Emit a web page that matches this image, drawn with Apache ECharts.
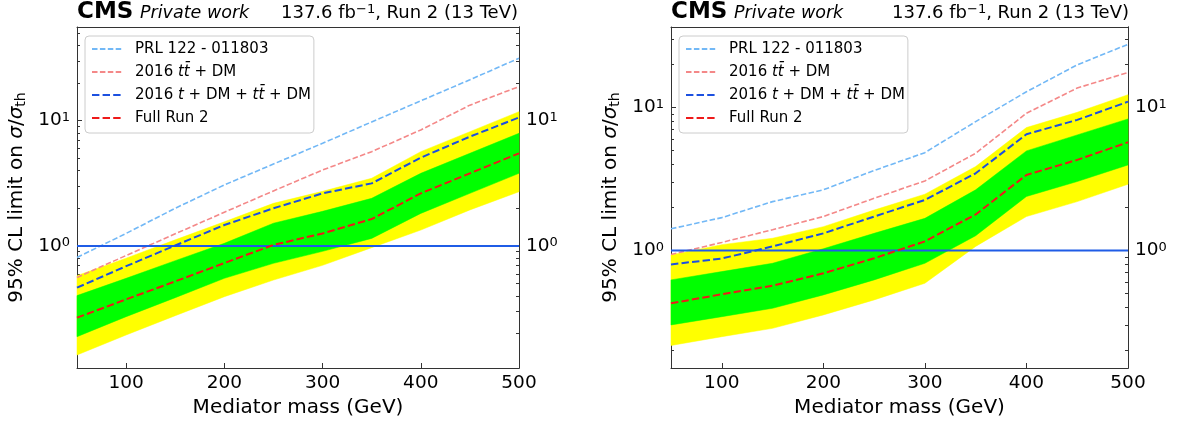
<!DOCTYPE html>
<html>
<head>
<meta charset="utf-8">
<script src="https://cdn.jsdelivr.net/npm/echarts@6/dist/echarts.min.js"></script>
<style>
  html, body { margin: 0; padding: 0; background: #ffffff; }
  #chart { width: 1180px; height: 423px; }
</style>
</head>
<body>
<div id="chart"></div>
<script>
// Mediator mass points (GeV)
const masses = [50, 100, 150, 200, 250, 300, 350, 400, 450, 500];
const xTicks = [100, 200, 300, 400, 500];

// ---- Left panel: 95% CL upper limits on sigma/sigma_th ----
const prlA      = [0.81, 1.26, 2.00, 3.07, 4.51, 6.60, 9.77, 14.4, 21.2, 31.5];
const ttbarA    = [0.56, 0.84, 1.25, 1.86, 2.75, 4.04, 5.66, 8.43, 13.3, 18.7];
const comboA    = [0.465, 0.69, 1.01, 1.47, 2.00, 2.63, 3.16, 5.07, 7.46, 10.6];
const run2A     = [0.268, 0.375, 0.522, 0.731, 1.02, 1.26, 1.64, 2.63, 3.80, 5.49];
const band1LoA  = [0.189, 0.273, 0.387, 0.552, 0.727, 0.906, 1.15, 1.82, 2.63, 3.80];
const band1HiA  = [0.402, 0.552, 0.764, 1.05, 1.52, 1.89, 2.40, 3.80, 5.49, 7.93];
const band2LoA  = [0.135, 0.195, 0.278, 0.394, 0.535, 0.701, 0.97, 1.34, 1.94, 2.71];
const band2HiA  = [0.58, 0.80, 1.12, 1.56, 2.19, 2.73, 3.47, 5.66, 8.17, 11.8];

// ---- Right panel ----
const prlB      = [1.42, 1.70, 2.20, 2.66, 3.63, 4.84, 7.98, 12.9, 19.9, 27.7];
const ttbarB    = [0.94, 1.14, 1.40, 1.73, 2.32, 3.07, 4.79, 9.13, 13.7, 17.6];
const comboB    = [0.80, 0.88, 1.07, 1.32, 1.73, 2.26, 3.47, 6.51, 8.20, 11.0];
const run2B     = [0.428, 0.495, 0.569, 0.694, 0.884, 1.16, 1.79, 3.38, 4.31, 5.72];
const band1LoB  = [0.302, 0.345, 0.395, 0.49, 0.624, 0.815, 1.27, 2.39, 3.04, 3.97];
const band1HiB  = [0.624, 0.713, 0.815, 1.03, 1.32, 1.68, 2.66, 4.98, 6.44, 8.33];
const band2LoB  = [0.217, 0.25, 0.286, 0.355, 0.452, 0.591, 1.07, 1.73, 2.20, 2.91];
const band2HiB  = [0.933, 1.10, 1.22, 1.47, 1.92, 2.48, 3.87, 7.25, 9.27, 12.3];

// Reference line: sigma = sigma_th
const unityLine = 1;

// Legend entries
const seriesNames = ['PRL 122 - 011803', '2016 tt\u0304 + DM', '2016 t + DM + tt\u0304 + DM', 'Full Run 2'];
const legendRich = {
  'PRL 122 - 011803': 'PRL 122 - 011803',
  '2016 tt\u0304 + DM': '2016 {i|tt\u0304} + DM',
  '2016 t + DM + tt\u0304 + DM': '2016 {i|t} + DM + {i|tt\u0304} + DM',
  'Full Run 2': 'Full Run 2'
};

const FONT = 'DejaVu Sans';
const AXIS_COLOR = '#333333';
const lineStyles = [
  { color: '#72b8f6', width: 1.6, type: [5.5, 2.4] },
  { color: '#f48888', width: 1.6, type: [5.5, 2.4] },
  { color: '#1c50e0', width: 2, type: [7.4, 3.2] },
  { color: '#ee1a1a', width: 2, type: [7.4, 3.2] }
];

const panels = [
  {
    grid: { left: 77, top: 27, width: 442, height: 341 },
    yMin: 0.1063, yMax: 55.9,
    legendPos: { left: 85, top: 36 },
    titleRight: 662,
    lines: [prlA, ttbarA, comboA, run2A],
    band1: [band1LoA, band1HiA], band2: [band2LoA, band2HiA]
  },
  {
    grid: { left: 671, top: 27, width: 457, height: 341 },
    yMin: 0.151, yMax: 36.6,
    legendPos: { left: 679, top: 36 },
    titleRight: 51,
    lines: [prlB, ttbarB, comboB, run2B],
    band1: [band1LoB, band1HiB], band2: [band2LoB, band2HiB]
  }
];

function minorTickValues(min, max) {
  const out = [];
  for (let e = -2; e <= 2; e++) {
    for (let k = 2; k <= 9; k++) {
      const v = k * Math.pow(10, e);
      if (v > min && v < max) out.push(Math.log10(v));
    }
  }
  return out;
}

const powLabel = v => '{b|10}{s|' + Math.round(v) + '}';
const powRich = {
  b: { fontFamily: FONT, fontSize: 18.5, color: '#000', lineHeight: 19 },
  s: { fontFamily: FONT, fontSize: 13, color: '#000', lineHeight: 10, verticalAlign: 'top' }
};

function bandSeries(xIdx, yIdx, lo, hi, color) {
  return {
    type: 'custom',
    xAxisIndex: xIdx,
    yAxisIndex: yIdx,
    silent: true,
    z: 1,
    data: masses.map((m, i) => [m, lo[i], hi[i]]),
    encode: { x: 0, y: [1, 2] },
    renderItem: (params, api) => {
      if (params.dataIndex !== 0) return null;
      const upper = masses.map((m, i) => api.coord([m, hi[i]]));
      const lower = masses.map((m, i) => api.coord([m, lo[i]])).reverse();
      return {
        type: 'polygon',
        shape: { points: upper.concat(lower) },
        style: { fill: color, stroke: color, lineWidth: 0.5 }
      };
    }
  };
}

const frameLine = { show: true, onZero: false, lineStyle: { color: AXIS_COLOR, width: 1 } };
const grids = [], xAxes = [], yAxes = [], series = [], legends = [], titles = [];

panels.forEach((p, pi) => {
  grids.push(p.grid);
  const xBase = xAxes.length;
  const yBase = yAxes.length;
  const lmin = Math.log10(p.yMin), lmax = Math.log10(p.yMax);

  // bottom x axis
  xAxes.push({
    type: 'value', gridIndex: pi, min: 50, max: 500, position: 'bottom',
    name: 'Mediator mass (GeV)', nameLocation: 'middle', nameGap: 28,
    nameTextStyle: { fontFamily: FONT, fontSize: 20, color: '#000', lineHeight: 20 },
    axisLine: frameLine,
    axisTick: { show: true, inside: true, length: 5, customValues: xTicks, lineStyle: { color: AXIS_COLOR } },
    axisLabel: { show: true, customValues: xTicks, margin: 6, fontFamily: FONT, fontSize: 18.5, color: '#000' },
    splitLine: { show: false }
  });
  // top frame
  xAxes.push({
    type: 'value', gridIndex: pi, min: 50, max: 500, position: 'top',
    axisLine: frameLine,
    axisTick: { show: false }, axisLabel: { show: false }, splitLine: { show: false }
  });

  // log axis carrying the data
  yAxes.push({
    type: 'log', logBase: 10, gridIndex: pi, min: p.yMin, max: p.yMax, position: 'left',
    name: '95% CL limit on {i|\u03c3}/{i|\u03c3}{sub|th}', nameLocation: 'middle', nameGap: 49, nameRotate: 90,
    nameTextStyle: {
      fontFamily: FONT, fontSize: 20, color: '#000', lineHeight: 22,
      rich: {
        i: { fontFamily: FONT, fontSize: 20, fontStyle: 'italic', color: '#000', lineHeight: 22 },
        sub: { fontFamily: FONT, fontSize: 14, color: '#000', lineHeight: 14, verticalAlign: 'bottom' }
      }
    },
    axisLine: frameLine,
    axisTick: { show: false }, axisLabel: { show: false }, splitLine: { show: false }, minorTick: { show: false }
  });
  // tick axes in log10 units (left/right, major/minor)
  const tickAxis = (position, major) => ({
    type: 'value', gridIndex: pi, min: lmin, max: lmax, position: position,
    axisLine: { show: position === 'right', onZero: false, lineStyle: { color: AXIS_COLOR, width: 1 } },
    axisTick: {
      show: true, inside: true, length: major ? 5 : 3,
      customValues: major ? [0, 1] : minorTickValues(p.yMin, p.yMax),
      lineStyle: { color: AXIS_COLOR }
    },
    axisLabel: major
      ? { show: true, customValues: [0, 1], margin: 7, formatter: powLabel, rich: powRich }
      : { show: false },
    splitLine: { show: false }
  });
  yAxes.push(tickAxis('left', true), tickAxis('left', false), tickAxis('right', true), tickAxis('right', false));

  // expected-limit bands
  series.push(bandSeries(xBase, yBase, p.band2[0], p.band2[1], '#ffff00'));
  series.push(bandSeries(xBase, yBase, p.band1[0], p.band1[1], '#00ff00'));

  // limit curves
  p.lines.forEach((vals, li) => {
    series.push({
      type: 'line', name: seriesNames[li], xAxisIndex: xBase, yAxisIndex: yBase,
      data: masses.map((m, i) => [m, vals[i]]),
      symbol: 'none', showSymbol: false, z: 3 + (li >= 2 ? 2 : 0),
      lineStyle: lineStyles[li], itemStyle: { color: lineStyles[li].color },
      silent: true
    });
  });
  // sigma = sigma_th
  series.push({
    type: 'line', xAxisIndex: xBase, yAxisIndex: yBase,
    data: [[masses[0], unityLine], [masses[masses.length - 1], unityLine]],
    symbol: 'none', showSymbol: false, z: 4, silent: true,
    lineStyle: { color: '#1f5ce6', width: 2 }
  });

  legends.push({
    data: seriesNames, orient: 'vertical', left: p.legendPos.left, top: p.legendPos.top,
    padding: [5, 3, 7, 6], itemWidth: 31, itemHeight: 14, itemGap: 7,
    backgroundColor: 'rgba(255,255,255,0.8)', borderColor: '#cccccc', borderWidth: 1, borderRadius: 4,
    selectedMode: false,
    itemStyle: { opacity: 0 },
    formatter: name => legendRich[name],
    textStyle: {
      fontFamily: FONT, fontSize: 15, color: '#000', lineHeight: 16, padding: [0, 0, 0, 7],
      rich: { i: { fontFamily: FONT, fontSize: 15, fontStyle: 'italic', color: '#000', lineHeight: 16 } }
    }
  });

  const left = p.grid.left;
  titles.push({
    text: 'CMS', left: left, top: 0, padding: 0,
    textStyle: { fontFamily: FONT, fontSize: 23, fontWeight: 'bold', color: '#000', lineHeight: 24 }
  });
  titles.push({
    text: 'Private work', left: left + 63, top: 3, padding: 0,
    textStyle: { fontFamily: FONT, fontSize: 17.5, fontStyle: 'italic', fontWeight: 'normal', color: '#000', lineHeight: 20 }
  });
  titles.push({
    text: '137.6 fb{s|\u22121}, Run 2 (13 TeV)', right: p.titleRight, top: 3, padding: 0,
    textStyle: {
      fontFamily: FONT, fontSize: 18, fontWeight: 'normal', color: '#000', lineHeight: 21,
      rich: { s: { fontFamily: FONT, fontSize: 13, fontWeight: 'normal', color: '#000', lineHeight: 12, verticalAlign: 'top' } }
    }
  });
});

const chart = echarts.init(document.getElementById('chart'), null, { renderer: 'canvas' });
chart.setOption({
  animation: false,
  backgroundColor: '#ffffff',
  title: titles,
  grid: grids,
  xAxis: xAxes,
  yAxis: yAxes,
  legend: legends,
  series: series
});
</script>
</body>
</html>
